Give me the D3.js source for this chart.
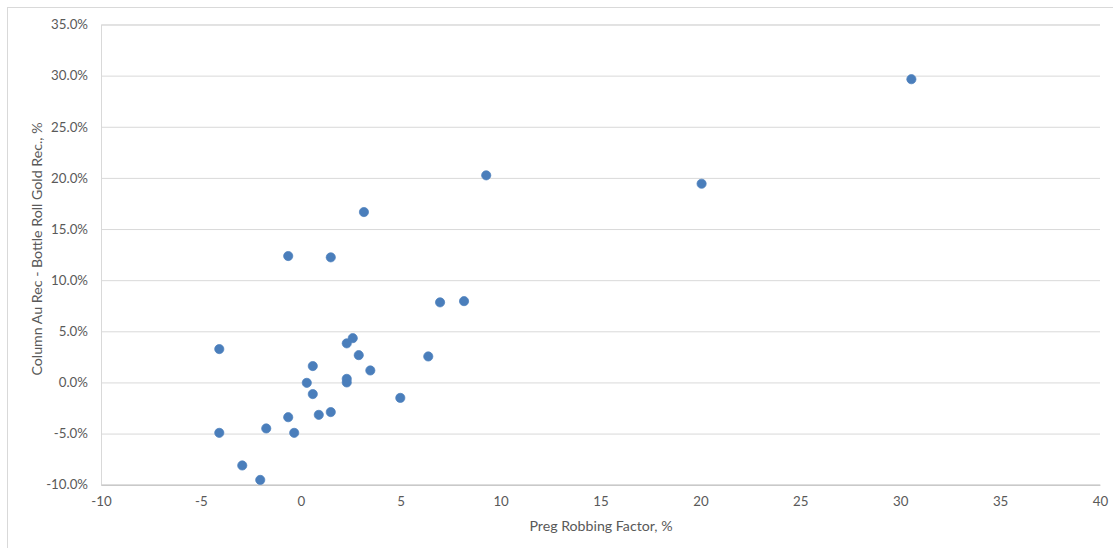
<!DOCTYPE html>
<html>
<head>
<meta charset="utf-8">
<script src="https://cdn.jsdelivr.net/npm/d3@7"></script>
<style>
  html, body { margin: 0; padding: 0; background: #ffffff; }
  svg text { font-family: Lato, "Open Sans", sans-serif; fill: #595959; }
</style>
</head>
<body>
<svg id="chart" width="1113" height="548"></svg>
<script>
// Preg robbing factor (%) for each sample
const pregRobbing = [
  30.56, 9.28, 20.06, 3.16, -0.63, 1.50, 6.97, 8.17, -4.08, 2.60,
  2.30, 2.90, 6.38, 0.60, 3.48, 2.30, 2.30, 0.30, 0.60, 4.98,
  1.50, 0.90, -0.63, -1.73, -4.08, -0.33, -2.93, -2.03
];
// Column Au recovery minus bottle roll gold recovery (fraction)
const recoveryDiff = [
  0.2965, 0.2025, 0.1943, 0.1666, 0.1236, 0.1223, 0.0783, 0.0795, 0.0326, 0.0433,
  0.0382, 0.0267, 0.0254, 0.0160, 0.0117, 0.0035, 0.0000, -0.0004, -0.0114, -0.0151,
  -0.0290, -0.0317, -0.0340, -0.0450, -0.0493, -0.0493, -0.0812, -0.0953
];
const xTicks = [-10, -5, 0, 5, 10, 15, 20, 25, 30, 35, 40];
const yTicks = [-0.10, -0.05, 0.00, 0.05, 0.10, 0.15, 0.20, 0.25, 0.30, 0.35];
const xTitle = "Preg Robbing Factor, %";
const yTitle = "Column Au Rec - Bottle Roll Gold Rec., %";

// Plain hyphen for negative numbers
const locale = d3.formatLocale({
  decimal: ".", thousands: ",", grouping: [3], currency: ["$", ""], minus: "-"
});

const svg = d3.select("#chart");
const plot = { left: 101, right: 1100, top: 24.5, bottom: 484.7 };

const x = d3.scaleLinear().domain([-10, 40]).range([plot.left, plot.right]);
const y = d3.scaleLinear().domain([-0.10, 0.35]).range([plot.bottom, plot.top]);

// Chart area frame
svg.append("rect")
  .attr("x", 7.5).attr("y", 7.5)
  .attr("width", 1120).attr("height", 560)
  .attr("fill", "#ffffff").attr("stroke", "#d9d9d9").attr("stroke-width", 1);

// Horizontal gridlines and value labels
const yAxis = d3.axisLeft(y)
  .tickValues(yTicks)
  .tickFormat(locale.format(".1%"))
  .tickSize(-(plot.right - plot.left))
  .tickPadding(13);
const gy = svg.append("g")
  .attr("transform", `translate(${plot.left},0)`)
  .call(yAxis);
gy.select(".domain").attr("stroke", "#d9d9d9");
gy.selectAll(".tick line").attr("stroke", "#d9d9d9").attr("stroke-width", 1);
gy.selectAll(".tick text").attr("font-size", 13.3).attr("fill", "#595959");

// Bottom axis
const xAxis = d3.axisBottom(x)
  .tickValues(xTicks)
  .tickFormat(locale.format("d"))
  .tickSize(0)
  .tickPadding(12);
const gx = svg.append("g")
  .attr("transform", `translate(0,${plot.bottom})`)
  .call(xAxis);
gx.select(".domain").attr("stroke", "#bfbfbf").attr("stroke-width", 1);
gx.selectAll(".tick text").attr("font-size", 13.3).attr("fill", "#595959");

// Data points
svg.append("g")
  .selectAll("circle")
  .data(pregRobbing.map((v, i) => [v, recoveryDiff[i]]))
  .join("circle")
  .attr("cx", d => x(d[0]))
  .attr("cy", d => y(d[1]))
  .attr("r", 4.6)
  .attr("fill", "#4a7ebb")
  .attr("stroke", "#4f81bd")
  .attr("stroke-width", 0.75);

// Axis titles
svg.append("text")
  .attr("x", 601).attr("y", 531)
  .attr("text-anchor", "middle")
  .attr("font-size", 14.2)
  .text(xTitle);

svg.append("text")
  .attr("transform", "translate(42,249) rotate(-90)")
  .attr("text-anchor", "middle")
  .attr("font-size", 14.2)
  .text(yTitle);
</script>
</body>
</html>
